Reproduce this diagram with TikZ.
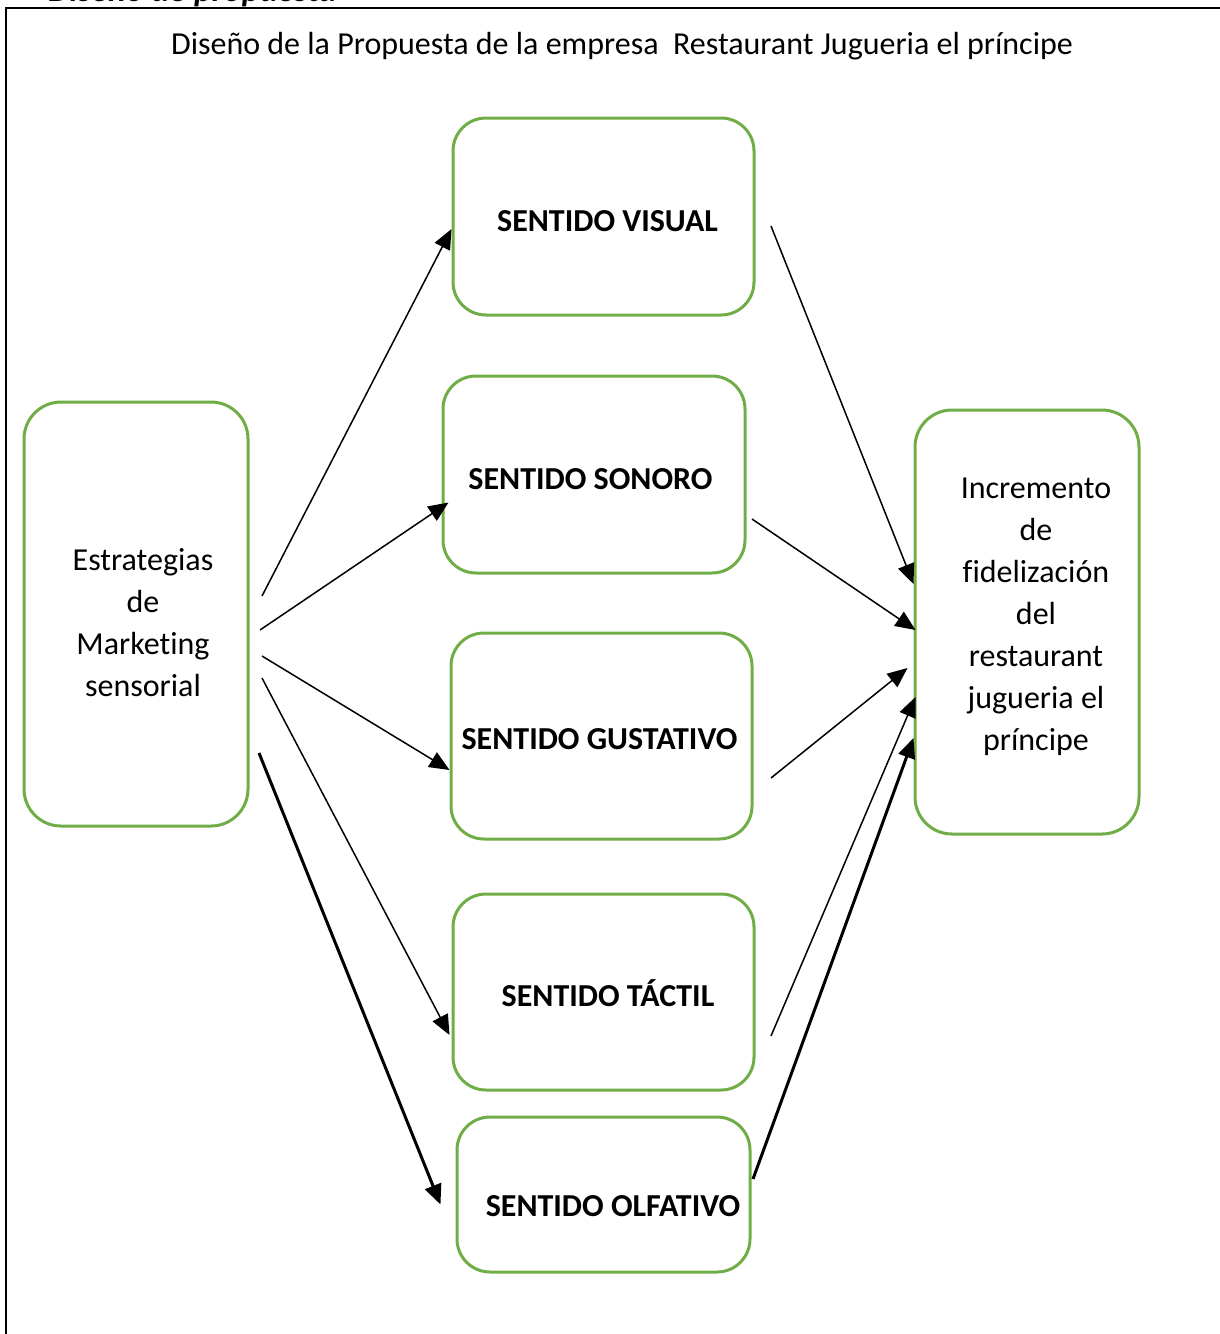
\documentclass[tikz,border=0pt]{standalone}
\usepackage{fontspec}
\setmainfont{Carlito}[Ligatures=NoCommon]
\usetikzlibrary{arrows.meta,calc}
\definecolor{boxgreen}{HTML}{70AD47}
\begin{document}
\begin{tikzpicture}[x=1pt,y=-1pt,
  frame/.style={line width=2.2pt,black},
  sensebox/.style={draw=boxgreen,line width=3pt,rounded corners=33pt,inner sep=0pt},
  bigbox/.style={draw=boxgreen,line width=3pt,rounded corners=37pt,inner sep=0pt,
                 minimum width=224pt,minimum height=424pt},
  bodytext/.style={font=\fontsize{32}{42}\selectfont,inner sep=0pt},
  sensetext/.style={font=\fontsize{32}{42}\selectfont\bfseries,inner sep=0pt,anchor=base},
  link/.style={line width=1.5pt,-{Triangle[length=20pt,width=17pt]}},
  boldlink/.style={line width=3pt,-{Triangle[length=20pt,width=17pt]}}]
\useasboundingbox (0,0) rectangle (1220,1334);

% caption above the frame (cut by the page edge)
\node[font=\fontsize{34}{40}\selectfont\bfseries\itshape,inner sep=0pt,anchor=base east]
  (caption) at (337,1) {Diseño de propuesta};

% frame
\draw[frame] (1220,8) -- (6,8) -- (6,1334);

% title
\node[bodytext,anchor=base] (title) at (622,54)
  {Diseño de la Propuesta de la empresa\ \ Restaurant Jugueria el príncipe};

% boxes
\node[bigbox] (est) at (136,614) {};
\node[bigbox] (inc) at (1027,622) {};
\node[sensebox,minimum width=301pt,minimum height=197pt] (vis) at (603.5,216.5) {};
\node[sensebox,minimum width=302pt,minimum height=197pt] (son) at (594,474.5) {};
\node[sensebox,minimum width=301pt,minimum height=206pt] (gus) at (601.5,736) {};
\node[sensebox,minimum width=301pt,minimum height=196pt] (tac) at (603.5,992) {};
\node[sensebox,minimum width=293pt,minimum height=155pt] (olf) at (603.5,1194.5) {};

% labels
\node[bodytext,align=center] (est-t) at (143,623) {Estrategias\\de\\Marketing\\sensorial};
\node[bodytext,align=center] (inc-t) at (1036,617)
  {Incremento\\de\\fidelización\\del\\restaurant\\jugueria el\\príncipe};
\node[sensetext] (vis-t) at (607.5,231) {SENTIDO VISUAL};
\node[sensetext] (son-t) at (590.5,489) {SENTIDO SONORO};
\node[sensetext] (gus-t) at (599.5,749) {SENTIDO GUSTATIVO};
\node[sensetext] (tac-t) at (608,1006) {SENTIDO TÁCTIL};
\node[sensetext] (olf-t) at (613,1216) {SENTIDO OLFATIVO};

% free ends of the connectors
\coordinate (e1) at (262,596);
\coordinate (e2) at (260,630);
\coordinate (e3) at (262,656);
\coordinate (e4) at (262,678);
\coordinate (e5) at (259,753);
\coordinate (v1) at (771,226);
\coordinate (s1) at (752,519);
\coordinate (g1) at (771,778);
\coordinate (t1) at (771,1036);
\coordinate (o1) at (753,1179);

% strategies to the senses
\draw[link] (e1) -- ([yshift=-12.5pt]vis.west);
\draw[link] (e2) -- ([xshift=7pt,yshift=-28pt]son.west);
\draw[link] (e3) -- ([yshift=-34pt]gus.west);
\draw[link] (e4) -- ([xshift=-2pt,yshift=-43pt]tac.west);
\draw[boldlink] (e5) -- ([xshift=-15pt,yshift=-10pt]olf.west);

% senses to loyalty
\draw[link] (v1) -- ([yshift=38pt]inc.west);
\draw[link] (s1) -- ([xshift=2pt,yshift=-8pt]inc.west);
\draw[link] (g1) -- ([xshift=-6pt,yshift=-46pt]inc.west);
\draw[link] (t1) -- ([xshift=2pt,yshift=-75pt]inc.west);
\draw[boldlink] (o1) -- ([yshift=-116pt]inc.west);
\end{tikzpicture}
\end{document}
